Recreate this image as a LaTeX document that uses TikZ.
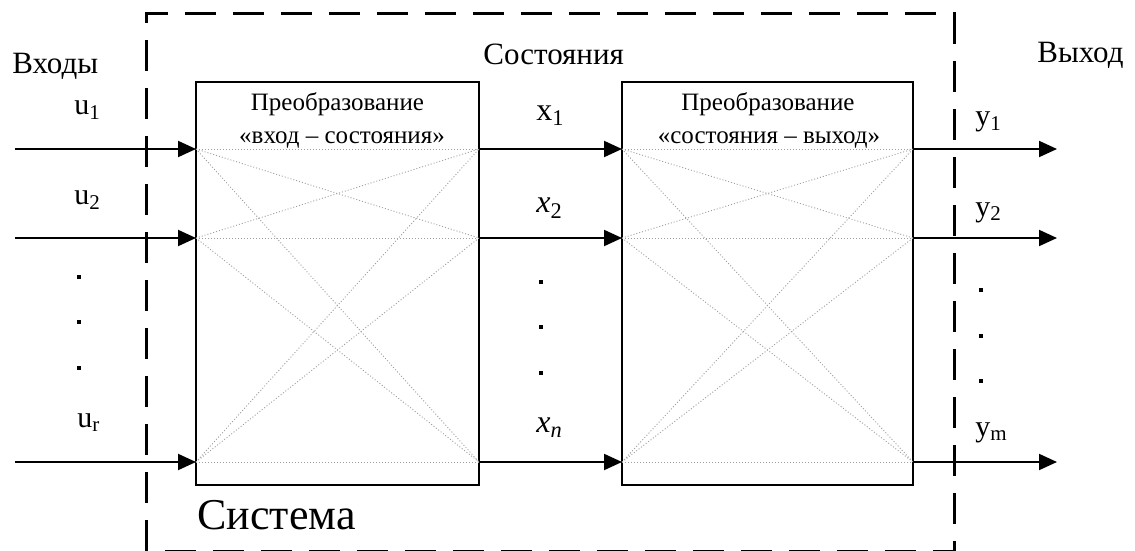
\documentclass[tikz,border=0pt]{standalone}
\usepackage{fontspec}
\setmainfont{Liberation Serif}
\usetikzlibrary{arrows.meta}
\newcommand{\fsz}[1]{\fontsize{#1}{#1}\selectfont}
\begin{document}
\begin{tikzpicture}[x=0.5pt,y=-0.5pt,
  box/.style={draw, line width=1pt, inner sep=0pt, outer sep=0pt},
  arr/.style={line width=1pt, -{Triangle[length=9pt,width=8pt]}},
  fan/.style={gray!75, line width=0.45pt, dash pattern=on 0.5pt off 1pt},
  sysborder/.style={line width=1.5pt, dash pattern=on 15.5pt off 8.5pt},
  lbl/.style={inner sep=0pt, anchor=base west},
  head/.style={inner sep=0pt, anchor=base west, font=\fsz{15.5}},
  title/.style={inner sep=0pt, anchor=base, font=\fsz{12.5}},
  dotmark/.style={fill=black, minimum size=2pt, inner sep=0pt, outer sep=0pt}]
\useasboundingbox (0,0) rectangle (1135,551);

% system boundary
\draw[sysborder] (146,551) -- (146,14) -- (954,14) -- (954,551) -- cycle;

% transformation blocks
\node[box, minimum width=141.5pt, minimum height=201.5pt] (b1) at (337.5,283.5) {};
\node[box, minimum width=145.5pt, minimum height=201.5pt] (b2) at (767.5,283.5) {};

% ports on the blocks
\foreach \i/\y in {1/149,2/238,3/462}{
  \coordinate (a\i) at (196,\y);
  \coordinate (c\i) at (479,\y);
  \coordinate (d\i) at (622,\y);
  \coordinate (e\i) at (913,\y);
  \coordinate (s\i) at (15,\y);
  \coordinate (t\i) at (1057,\y);
}

% internal links (all inputs to all outputs)
\foreach \i in {1,2,3}{
  \foreach \j in {1,2,3}{
    \draw[fan] (a\i) -- (c\j);
    \draw[fan] (d\i) -- (e\j);
  }
}

% signal arrows
\foreach \i in {1,2,3}{
  \draw[arr] (s\i) -- (a\i);
  \draw[arr] (c\i) -- (d\i);
  \draw[arr] (e\i) -- (t\i);
}

% block titles
\node[title] (t1a) at (337.5,111) {Преобразование};
\node[title] (t1b) at (342,143) {«вход – состояния»};
\node[title] (t2a) at (768,111) {Преобразование};
\node[title] (t2b) at (769,143) {«состояния – выход»};

% headers
\node[head] (hin) at (12,74) {Входы};
\node[head] (hst) at (483,65) {Состояния};
\node[head] (hout) at (1037,63) {Выход};
\node[lbl, font=\fsz{22}] (sys) at (197,529) {Система};

% signal labels
\node[lbl, font=\fsz{15}] (u1) at (74,115) {u\textsubscript{1}};
\node[lbl, font=\fsz{15}] (u2) at (74,205) {u\textsubscript{2}};
\node[lbl, font=\fsz{15}] (ur) at (77,427) {u\textsubscript{r}};
\node[lbl, font=\fsz{16}] (x1) at (536,120) {x\textsubscript{1}};
\node[lbl, font=\fsz{16}] (x2) at (536,213) {\textit{x}\textsubscript{2}};
\node[lbl, font=\fsz{16}] (xn) at (536,432) {\textit{x}\textsubscript{\textit{n}}};
\node[lbl, font=\fsz{15}] (y1) at (975,126) {y\textsubscript{1}};
\node[lbl, font=\fsz{15}] (y2) at (975,216) {y\textsubscript{2}};
\node[lbl, font=\fsz{15}] (ym) at (975,436) {y\textsubscript{m}};

% ellipsis dots
\foreach \y in {277,322,368} \node[dotmark] at (79,\y) {};
\foreach \y in {282,327,373} \node[dotmark] at (541,\y) {};
\foreach \y in {290,336,381} \node[dotmark] at (981,\y) {};
\end{tikzpicture}
\end{document}
